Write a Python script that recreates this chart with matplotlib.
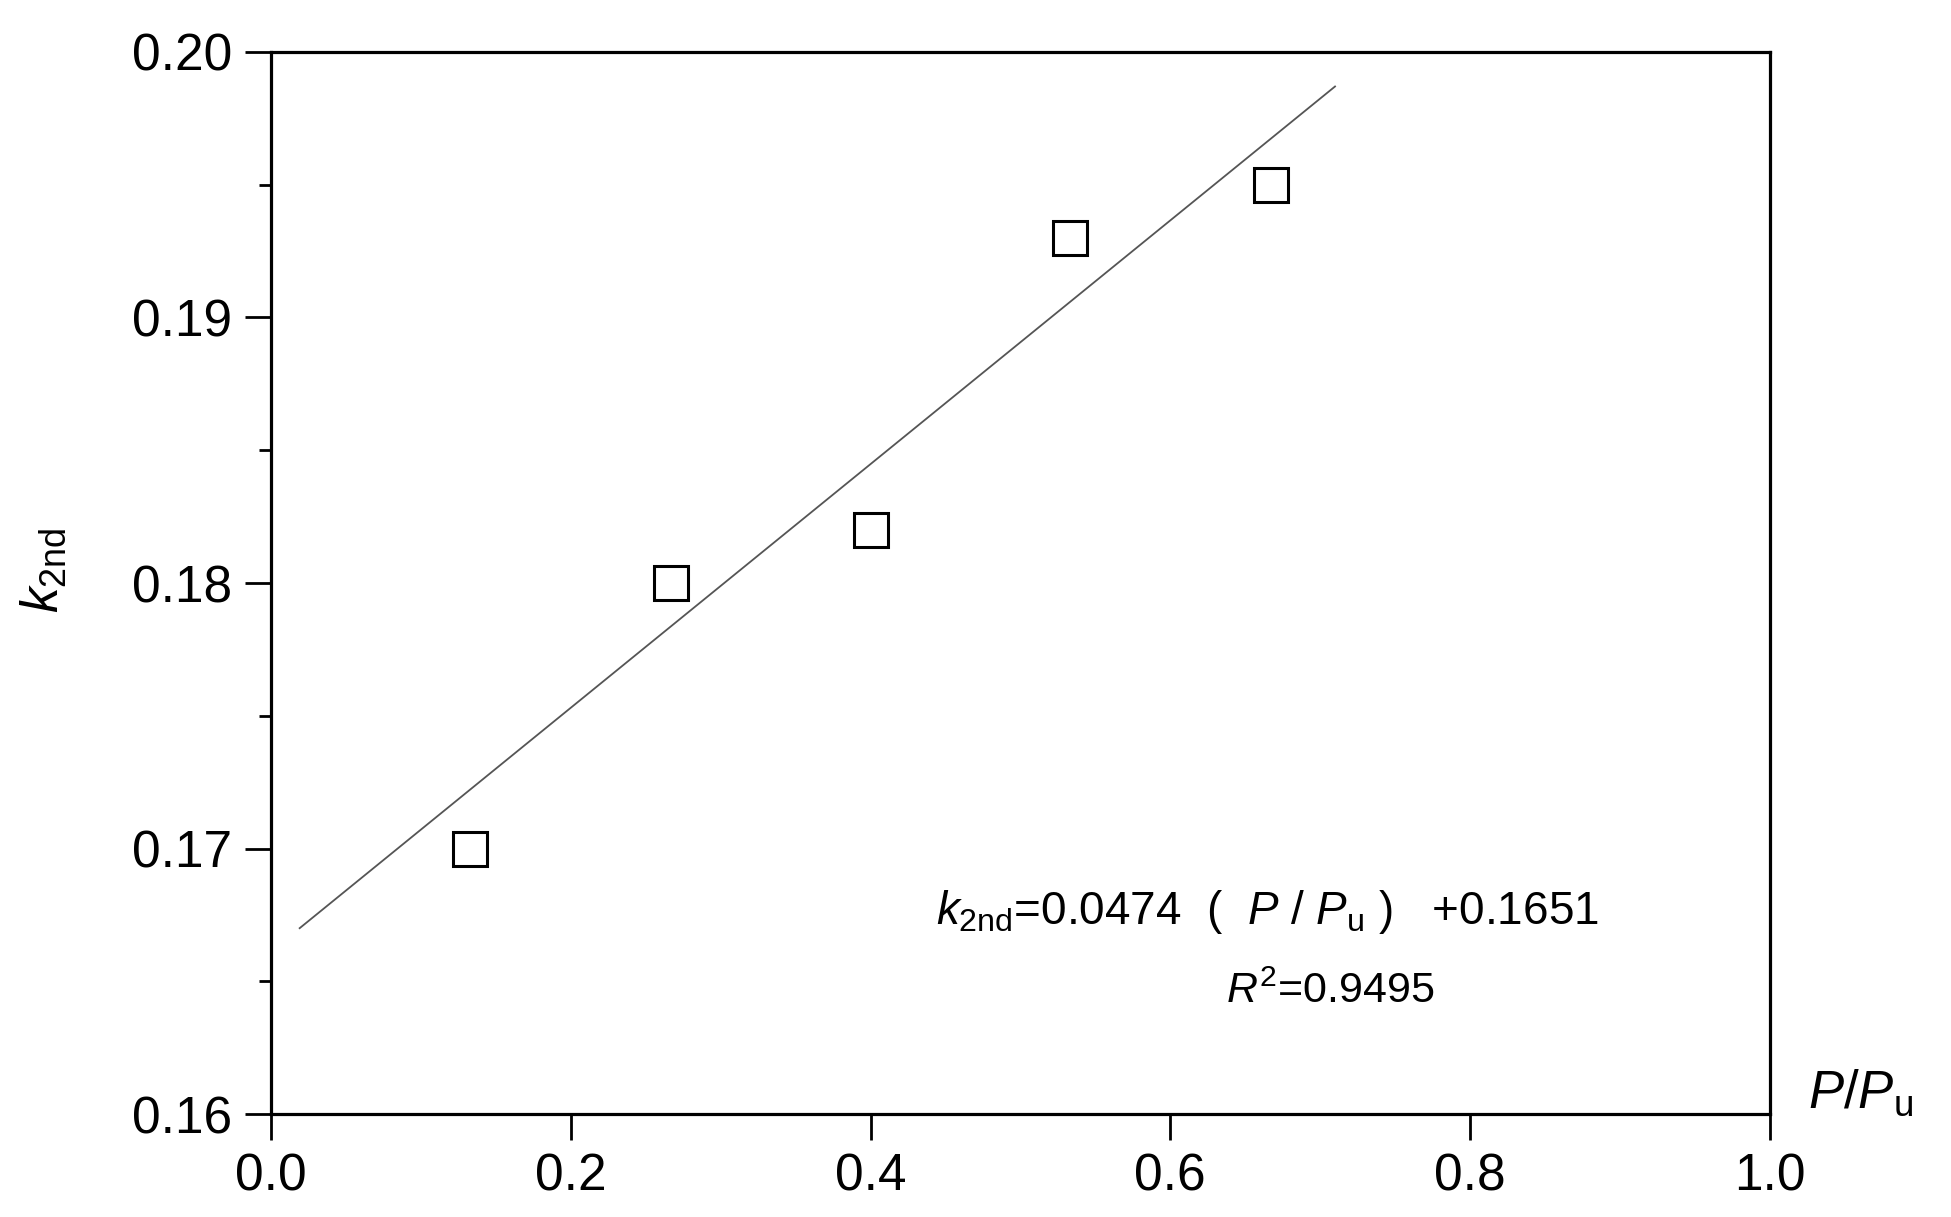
import numpy as np
import matplotlib
matplotlib.use("Agg")
import matplotlib.pyplot as plt

plt.rcParams['font.family'] = ['Liberation Sans', 'DejaVu Sans']
plt.rcParams['mathtext.fontset'] = 'custom'
plt.rcParams['mathtext.rm'] = 'Liberation Sans'
plt.rcParams['mathtext.it'] = 'Liberation Sans:italic'
plt.rcParams['mathtext.bf'] = 'Liberation Sans:bold'

# measured points: P/Pu vs k_2nd
p_ratio = [0.133, 0.267, 0.400, 0.533, 0.667]
k_2nd = [0.170, 0.180, 0.182, 0.193, 0.195]

# fitted line as drawn (end points)
fit_x = [0.019, 0.710]
fit_y = [0.1670, 0.1987]

xticks = [0.0, 0.2, 0.4, 0.6, 0.8, 1.0]
yticks = [0.16, 0.17, 0.18, 0.19, 0.20]

eq_text = r"$k_{\rm 2nd}$=0.0474  (  $P$ / $P_{\rm u}$ )   +0.1651"
r2_text = r"$R^2$=0.9495"

fig = plt.figure(figsize=(19.51, 12.17), dpi=100)
ax = fig.add_axes([0.139, 0.0846, 0.768, 0.8727])

ax.plot(fit_x, fit_y, color='#555555', lw=1.3)
ax.plot(p_ratio, k_2nd, ls='none', marker='s', ms=24, mfc='white',
        mec='black', mew=2.2)

ax.set_xlim(0, 1.0)
ax.set_ylim(0.16, 0.20)
ax.set_xticks(xticks)
ax.set_xticklabels(['%.1f' % v for v in xticks])
ax.set_yticks(yticks)
ax.set_yticklabels(['%.2f' % v for v in yticks])
ax.set_yticks([0.165, 0.175, 0.185, 0.195], minor=True)

for s in ax.spines.values():
    s.set_linewidth(2.3)
ax.tick_params(axis='both', which='major', direction='out', length=19,
               width=2.0, labelsize=37, pad=9)
ax.tick_params(axis='y', which='minor', direction='out', length=9, width=2.0)

ax.set_xlabel(r"$P$/$P_{\rm u}$", fontsize=38)
ax.xaxis.label.set_va('center')
ax.xaxis.set_label_coords(1.061, 0.02)
ax.set_ylabel(r"$k_{\rm 2nd}$", fontsize=37)
ax.yaxis.label.set_va('center')
ax.yaxis.set_label_coords(-0.152, 0.512)

ax.text(0.444, 0.1676, eq_text, fontsize=33, va='center', ha='left')
ax.text(0.6375, 0.1646, r2_text, fontsize=31, va='center', ha='left')

fig.savefig('out.png', dpi=100)
